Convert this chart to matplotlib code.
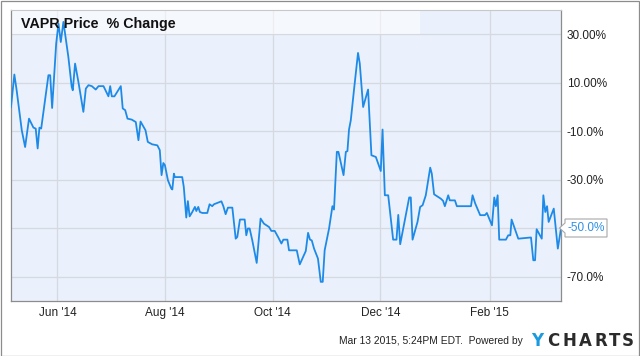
import matplotlib
matplotlib.use("Agg")
import matplotlib.pyplot as plt
import pandas as pd
from matplotlib.patches import Rectangle, Polygon

# ---- data (days relative to 2014-06-01, % change) ----
base_date = "2014-06-01"
days = [-26.3, -24.4, -23.1, -20.2, -18.3, -16.1, -13.6, -12.3, -11.2, -10.2, -9.2, -5.1, -4.1, -3.0,
        -0.7, 0.6, 1.9, 3.4, 6.2, 8.1, 8.7, 10.0, 11.9, 14.7, 16.1, 17.6, 19.5, 21.7, 23.3, 26.1,
        28.9, 29.9, 30.8, 32.3, 35.9, 37.0, 38.4, 39.7, 42.1, 44.4, 45.9, 47.1, 49.9, 51.2, 53.7,
        56.6, 58.0, 59.0, 60.0, 60.9, 62.6, 64.5, 65.1, 66.0, 66.5, 70.7, 71.6, 73.0, 73.9, 74.9,
        76.4, 77.9, 78.7, 79.8, 80.7, 82.1, 84.9, 86.2, 87.7, 88.7, 92.9, 94.0, 95.3, 96.6, 99.1,
        101.0, 101.9, 103.4, 106.1, 107.0, 107.9, 108.9, 110.4, 112.9, 115.1, 117.0, 119.9, 121.2,
        123.1, 125.0, 126.9, 128.0, 130.3, 131.2, 135.6, 137.3, 140.7, 142.0, 143.1, 144.1, 145.4,
        147.6, 149.2, 150.3, 151.4, 153.9, 155.8, 156.7, 158.3, 159.2, 162.1, 163.4, 164.3, 165.2,
        166.2, 168.1, 170.3, 171.3, 173.2, 176.0, 177.9, 180.4, 183.2, 184.2, 185.5, 187.4, 190.2,
        192.1, 193.1, 194.2, 197.4, 199.3, 200.2, 201.2, 204.0, 205.5, 206.9, 208.7, 211.2, 212.1,
        213.4, 217.2, 218.5, 219.5, 221.4, 222.3, 225.2, 226.3, 234.3, 235.2, 236.7, 239.5, 242.2,
        243.3, 246.2, 247.5, 248.4, 249.4, 250.3, 254.1, 255.4, 256.6, 257.3, 261.1, 268.3, 269.6,
        270.6, 271.5, 274.4, 275.3, 276.4, 277.4, 278.3, 281.2, 283.5, 285.3]
pct_change = [0.0, 13.4, 6.9, -9.6, -16.5, -4.8, -8.5, -8.9, -17.1, -8.5, -8.9, 13.1, 13.1, -0.4,
              26.2, 34.4, 26.8, 35.1, 20.6, 8.3, 6.9, 17.9, 10.3, -2.0, 7.6, 9.0, 8.6, 7.2, 8.6, 8.6,
              4.4, 8.6, 4.4, 4.4, 8.6, -0.6, -1.3, -4.8, -5.2, -6.2, -13.7, -6.0, -9.6, -14.4, -15.4,
              -15.8, -17.8, -28.1, -23.1, -24.0, -30.2, -33.6, -34.0, -27.5, -28.9, -28.9, -33.0, -45.6, -38.8, -45.1,
              -43.3, -41.2, -42.9, -41.2, -43.3, -43.7, -43.7, -40.1, -40.9, -40.1, -38.9, -40.9, -44.2, -41.5, -41.5,
              -54.3, -53.6, -46.4, -46.4, -52.9, -50.1, -50.1, -55.0, -64.3, -46.0, -48.1, -49.5, -51.1,
              -51.1, -53.6, -56.3, -54.7, -54.7, -59.1, -59.1, -64.9, -59.4, -51.9, -54.7, -55.0, -58.4,
              -62.5, -72.1, -72.1, -59.1, -50.1, -40.9, -42.3, -18.5, -18.5, -28.1, -18.5, -18.2, -9.3,
              -5.5, 7.6, 22.3, 17.9, 0.0, 7.2, -19.9, -20.6, -26.4, -9.3, -36.4, -36.4, -54.7,
              -54.7, -44.5, -56.6, -44.6, -37.3, -37.3, -54.7, -47.4, -41.2, -40.5, -36.4, -25.0, -27.5,
              -36.0, -37.8, -38.7, -40.9, -36.4, -38.5, -38.5, -40.9, -40.9, -36.4, -39.8, -44.6, -44.6,
              -43.7, -48.8, -37.3, -40.9, -36.4, -54.7, -54.7, -52.9, -52.9, -46.4, -54.3, -53.8, -63.2,
              -63.2, -50.4, -54.3, -36.4, -43.3, -40.9, -47.4, -41.9, -58.4, -50.0]

x_tick_dates = ["2014-06-01", "2014-08-01", "2014-10-01", "2014-12-01", "2015-02-01"]
x_tick_labels = ["Jun '14", "Aug '14", "Oct '14", "Dec '14", "Feb '15"]
y_ticks = [30, 10, -10, -30, -50, -70]
y_tick_labels = ["30.00%", "10.00%", "-10.0%", "-30.0%", "-50.0%", "-70.0%"]
title = "VAPR Price  % Change"
last_label = "-50.0%"
footer = "Mar 13 2015, 5:24PM EDT.  Powered by"

plt.rcParams['font.family'] = ['Liberation Sans', 'DejaVu Sans']

W, H = 640, 356
fig = plt.figure(figsize=(W / 100, H / 100), dpi=100)
fig.patch.set_facecolor('white')

def fx(px):
    return px / W

def fy(py):
    return 1 - py / H

ax_l, ax_r, ax_t, ax_b = 11, 561, 10, 301
ax = fig.add_axes([fx(ax_l), fy(ax_b), (ax_r - ax_l) / W, (ax_b - ax_t) / H])
ax.set_facecolor('#eaf1fc')

dates = pd.Timestamp(base_date) + pd.to_timedelta(days, unit='D')
line_color = '#1e8ae8'
ax.plot(dates, pct_change, color=line_color, lw=1.3, zorder=3)

ax.set_xlim(dates[0], dates[-1])
ax.set_ylim(-80, 40)

ax.set_xticks(pd.to_datetime(x_tick_dates))
ax.set_xticklabels(x_tick_labels)
ax.set_yticks(y_ticks)
ax.set_yticklabels(y_tick_labels)
ax.yaxis.tick_right()
ax.tick_params(axis='both', length=0, labelsize=8.5, colors='#222222')
ax.tick_params(axis='x', pad=4.5)
ax.tick_params(axis='y', pad=4)
ax.grid(True, color='#d6d9de', lw=0.9, zorder=1)
ax.set_axisbelow(True)

# the tick label under the last-value box is hidden by the box in the reference
for lbl in ax.get_yticklabels():
    if lbl.get_text() == last_label:
        lbl.set_visible(False)

for s in ['left', 'bottom', 'right']:
    ax.spines[s].set_color('#8c8c8c')
    ax.spines[s].set_linewidth(0.9)
ax.spines['top'].set_color('#c8c8c8')
ax.spines['top'].set_linewidth(0.8)

# title band
band_y0 = (ax_b - 34) / (ax_b - ax_t)
band = Rectangle((0, band_y0), (420 - ax_l) / (ax_r - ax_l), 1 - band_y0, transform=ax.transAxes,
                 facecolor='white', alpha=0.55, edgecolor='none', zorder=2)
ax.add_patch(band)
ax.text((21 - ax_l) / (ax_r - ax_l), 1 - (24 - ax_t) / (ax_b - ax_t), title,
        transform=ax.transAxes, fontsize=10.3, fontweight='bold', color='#111111',
        va='center', ha='left', zorder=5)

# last value label with pointer
bx0, bx1, by0, by1 = 565, 607, 219, 237
ptr = Polygon([[fx(bx0), fy(by0 + 4)], [fx(559.5), fy((by0 + by1) / 2)], [fx(bx0), fy(by1 - 4)],
               [fx(bx0), fy(by1)], [fx(bx1), fy(by1)], [fx(bx1), fy(by0)], [fx(bx0), fy(by0)]],
              closed=True, transform=fig.transFigure, facecolor='white', edgecolor='#a8a8a8',
              lw=0.8, zorder=6)
fig.add_artist(ptr)
fig.text(fx((bx0 + bx1) / 2 + 0.5), fy((by0 + by1) / 2), last_label, fontsize=8.5, color='#2f8fe6',
         ha='center', va='center', zorder=7)

# footer
fig.text(fx(523), fy(340.5), footer, fontsize=7.4, color='#222222', ha='right', va='center')
logo = "YCHARTS"
logo_x = [531, 547, 563, 579, 595, 609, 622]
for ch, lx in zip(logo, logo_x):
    fig.text(fx(lx), fy(340.5), ch, fontsize=12, fontweight='bold', ha='left', va='center',
             color='#1a9be0' if ch == 'Y' else '#2b2b2b', family=['DejaVu Sans'])

# outer frame
frame = Rectangle((fx(0.5), fy(355.5)), fx(638.5), fy(0.5) - fy(355.5),
                  transform=fig.transFigure, fill=False, edgecolor='#8c8c8c', lw=0.9)
fig.add_artist(frame)

fig.savefig('out.png', dpi=100, facecolor='white')
